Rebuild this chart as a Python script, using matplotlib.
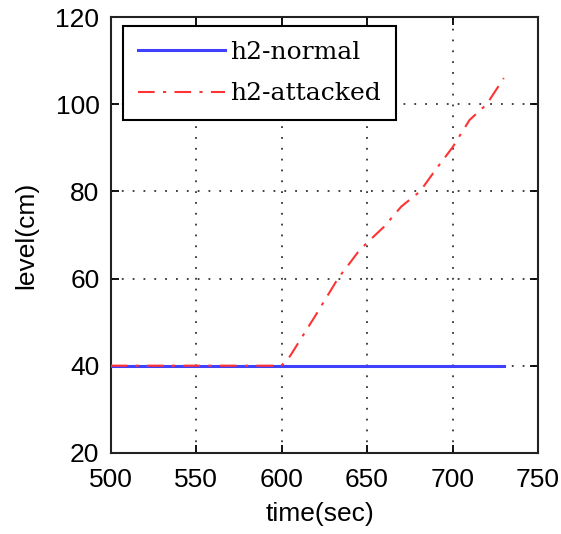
import matplotlib
matplotlib.use("Agg")
import matplotlib.pyplot as plt

# data
t_normal = [500, 730]
h_normal = [40, 40]

t_attacked = [500, 600, 605, 620, 633, 640, 645, 650, 660, 670, 681, 690, 700, 710, 720, 730]
h_attacked = [40, 40, 42.2, 51.6, 60, 63.6, 66.2, 68.2, 71.9, 76.5, 80, 84.9, 90.1, 96.4, 100, 106]

xticks = [500, 550, 600, 650, 700, 750]
yticks = [20, 40, 60, 80, 100, 120]

fig = plt.figure(figsize=(5.61, 5.34), dpi=100)
ax = fig.add_axes([0.197, 0.152, 0.762, 0.816])

ax.plot(t_normal, h_normal, color=(0.25, 0.25, 1.0), lw=2.2, label="h2-normal", zorder=3)
ax.plot(t_attacked, h_attacked, color=(1.0, 0.2, 0.2), lw=1.5,
        linestyle=(0, (8, 4, 1.5, 4)), label="h2-attacked", zorder=4)

ax.set_xlim(500, 750)
ax.set_ylim(20, 120)
ax.set_xticks(xticks)
ax.set_yticks(yticks)
ax.grid(True, color="#333333", linestyle=(0, (1, 5)), lw=1.3)
ax.tick_params(direction="in", length=6, width=1.3, top=True, right=True,
               labelsize=19)
ax.tick_params(axis="x", pad=11)
ax.tick_params(axis="y", pad=8)
for lab in ax.get_xticklabels() + ax.get_yticklabels():
    lab.set_family("Liberation Sans")
for s in ax.spines.values():
    s.set_linewidth(1.5)
    s.set_color("#222222")

ax.set_xlabel("time(sec)", fontsize=19, family="Liberation Sans")
ax.set_ylabel("level(cm)", fontsize=19, family="Liberation Sans")
ax.xaxis.set_label_coords(0.49, -0.112)
ax.yaxis.label.set_va("center")
ax.yaxis.label.set_ha("center")
ax.yaxis.set_label_coords(-0.198, 0.5)

leg = ax.legend(loc="upper left", bbox_to_anchor=(0.029, 0.979), fancybox=False,
                framealpha=1, edgecolor="black", handlelength=3.5,
                prop={"family": "DejaVu Serif", "size": 18}, borderaxespad=0,
                labelspacing=0.73, handletextpad=0.2, borderpad=0.6)
leg.get_frame().set_linewidth(1.5)

fig.savefig("out.png", dpi=100)
